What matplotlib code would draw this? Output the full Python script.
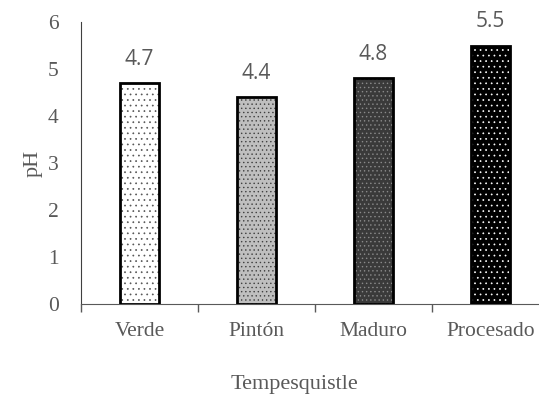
import matplotlib.pyplot as plt
import numpy as np

categorias = ['Verde', 'Pintón', 'Maduro', 'Procesado']
ph = [4.7, 4.4, 4.8, 5.5]
etiquetas = ['4.7', '4.4', '4.8', '5.5']

rellenos = ['white', '#bfbfbf', '#3a3a3a', 'black']
puntos = ['#555555', '#404040', '#8a8a8a', 'white']
tramas = ['...', '....', '....', '...']

plt.rcParams['hatch.linewidth'] = 0.5
gris = '#595959'

fig = plt.figure(figsize=(5.39, 4.0), dpi=100)
ax = fig.add_axes([81/539, 96/400, 468/539, 282/400])

x = np.arange(len(categorias))
for i in range(len(categorias)):
    ax.bar(x[i], ph[i], width=0.33, color=rellenos[i], edgecolor=puntos[i],
           hatch=tramas[i], linewidth=0, zorder=2)
    ax.bar(x[i], ph[i], width=0.33, fill=False, edgecolor='black',
           linewidth=2, zorder=3)
    ax.text(x[i], ph[i] + 0.28, etiquetas[i], ha='center', va='bottom',
            fontsize=15, color=gris, family='Open Sans')

ax.set_xlim(-0.5, 3.5)
ax.set_ylim(0, 6)
ax.set_yticks(range(7))
ax.set_xticks(x)
ax.set_xticklabels(categorias)
ax.set_xticks(np.arange(-0.5, 4, 1), minor=True)

for lab in ax.get_xticklabels() + ax.get_yticklabels():
    lab.set_family('Liberation Serif')
    lab.set_fontsize(15.5)
    lab.set_color(gris)

ax.tick_params(axis='x', which='major', length=0, pad=13)
ax.tick_params(axis='x', which='minor', length=6, width=1, color=gris)
ax.tick_params(axis='y', length=0, pad=16)

ax.spines['top'].set_visible(False)
ax.spines['right'].set_visible(False)
ax.spines['left'].set_color('#404040')
ax.spines['bottom'].set_color(gris)

ax.set_ylabel('pH', family='Liberation Serif', fontsize=16, color=gris, labelpad=4)
fig.text(294/539, 1 - 385/400, 'Tempesquistle', family='Liberation Serif',
         fontsize=16, color=gris, ha='center', va='center')

fig.savefig('out.png', dpi=100)
